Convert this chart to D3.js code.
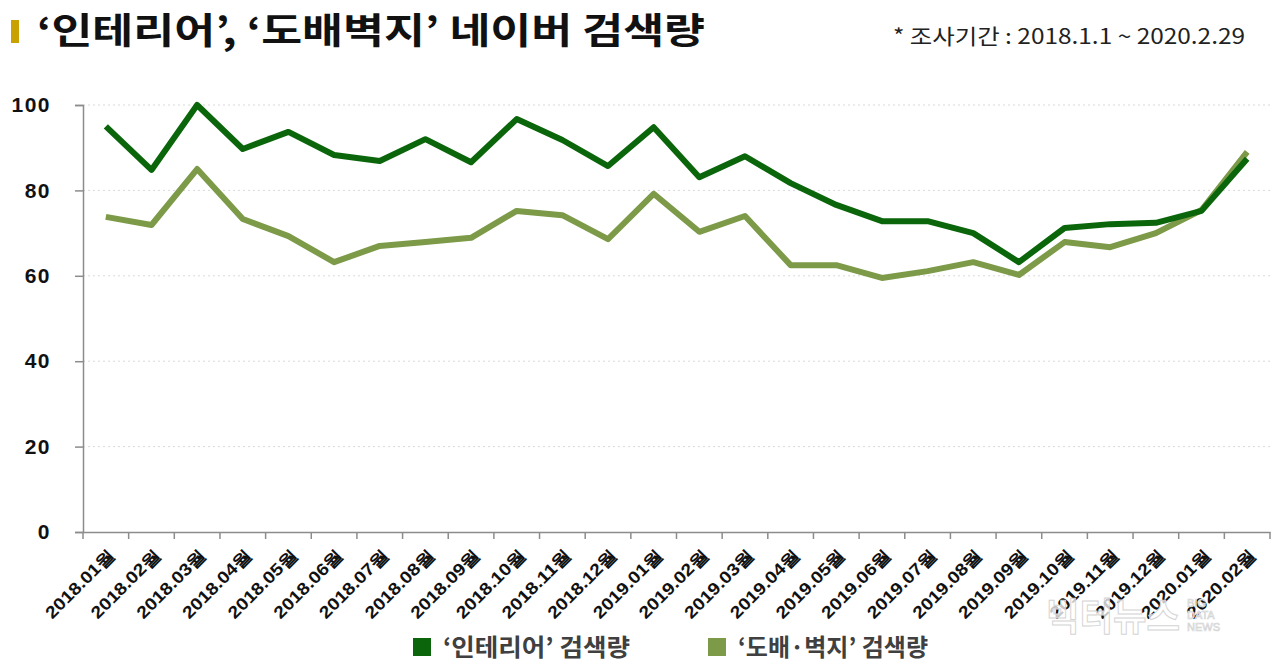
<!DOCTYPE html>
<html>
<head>
<meta charset="utf-8">
<script src="https://cdn.jsdelivr.net/npm/d3@7"></script>
<style>
  body { margin: 0; background: #fff; }
  svg { display: block; font-family: "Noto Sans CJK KR", "Noto Sans", sans-serif; }
</style>
</head>
<body>
<div id="chart"></div>
<script>
var months = ["2018.01월","2018.02월","2018.03월","2018.04월","2018.05월","2018.06월","2018.07월","2018.08월","2018.09월","2018.10월","2018.11월","2018.12월",
              "2019.01월","2019.02월","2019.03월","2019.04월","2019.05월","2019.06월","2019.07월","2019.08월","2019.09월","2019.10월","2019.11월","2019.12월",
              "2020.01월","2020.02월"];
var interior = [95, 84.8, 100, 89.7, 93.7, 88.3, 86.9, 92, 86.6, 96.7, 91.8, 85.7,
                94.8, 83.1, 88, 81.7, 76.6, 72.8, 72.8, 70, 63.2, 71.2, 72.1, 72.4,
                75.2, 87.4];
var wallpaper = [73.8, 71.9, 85, 73.3, 69.3, 63.2, 67, 67.9, 68.9, 75.2, 74.2, 68.6,
                 79.2, 70.3, 74, 62.5, 62.5, 59.5, 61.1, 63.2, 60.2, 67.9, 66.7, 70,
                 75.4, 89];
var yTicks = [0, 20, 40, 60, 80, 100];
var seriesNames = ["‘인테리어’ 검색량", "‘도배·벽지’ 검색량"];
var seriesColors = ["#0b660b", "#7c9a48"];

var W = 1280, H = 665;
var margin = {top: 105, left: 83, right: 10, bottom: 133},
    width  = W - margin.left - margin.right,
    height = H - margin.top - margin.bottom;

var svg = d3.select("#chart").append("svg")
    .attr("width", W).attr("height", H);

// title
svg.append("rect").attr("x", 11).attr("y", 20).attr("width", 8).attr("height", 23).attr("fill", "#c9a100");
svg.append("text")
    .attr("x", 37).attr("y", 44)
    .attr("font-size", 36).attr("font-weight", "bold").attr("fill", "#111")
    .attr("textLength", 668).attr("lengthAdjust", "spacingAndGlyphs")
    .text("‘인테리어’, ‘도배벽지’ 네이버 검색량");
svg.append("text")
    .attr("x", 893).attr("y", 44)
    .attr("font-size", 21).attr("fill", "#222")
    .attr("textLength", 352).attr("lengthAdjust", "spacingAndGlyphs")
    .text("* 조사기간 : 2018.1.1 ~ 2020.2.29");

var x = d3.scaleBand().domain(months).range([0, width]),
    y = d3.scaleLinear().domain([0, 100]).range([height, 0]);

var g = svg.append("g").attr("transform", "translate(" + margin.left + "," + margin.top + ")");

// grid
g.append("g").selectAll("line")
  .data(yTicks.filter(function(d) { return d > 0; }))
  .enter().append("line")
    .attr("x1", 0).attr("x2", width)
    .attr("y1", function(d) { return y(d); })
    .attr("y2", function(d) { return y(d); })
    .attr("stroke", "#d9d9d9")
    .attr("stroke-dasharray", "2,3");

// y axis
var yAxis = g.append("g")
  .call(d3.axisLeft(y).tickValues(yTicks).tickSize(8).tickPadding(24));
yAxis.select(".domain").attr("stroke", "#8c8c8c").attr("stroke-width", 1.5);
yAxis.selectAll(".tick line").attr("stroke", "#8c8c8c").attr("stroke-width", 1.5);
yAxis.selectAll("text").attr("font-size", 21).attr("font-weight", "bold").attr("fill", "#111")
  .attr("letter-spacing", 1.5)
  .attr("font-family", "Liberation Sans, Arial, sans-serif");

// x axis
var xAxis = g.append("g")
  .attr("transform", "translate(0," + height + ")")
  .call(d3.axisBottom(x).tickSize(0).tickFormat(""));
xAxis.select(".domain").attr("stroke", "#8c8c8c").attr("stroke-width", 1.5);
xAxis.selectAll(".tick").remove();

// band boundary ticks
xAxis.append("g").selectAll("line")
  .data(months.concat(["end"]))
  .enter().append("line")
    .attr("x1", function(d, i) { return i * x.step(); })
    .attr("x2", function(d, i) { return i * x.step(); })
    .attr("y1", 0).attr("y2", 7)
    .attr("stroke", "#8c8c8c").attr("stroke-width", 1.5);

xAxis.append("g").selectAll("text")
  .data(months)
  .enter().append("text")
    .attr("transform", function(d) {
      return "translate(" + (x(d) + x.bandwidth() / 2 + 10) + ",24) rotate(-45)";
    })
    .attr("text-anchor", "end")
    .attr("font-size", 17).attr("font-weight", "bold").attr("fill", "#111")
    .attr("textLength", 90).attr("lengthAdjust", "spacingAndGlyphs")
    .text(function(d) { return d; });

// lines
var line = d3.line()
    .x(function(d, i) { return x(months[i]) + x.bandwidth() / 2; })
    .y(function(d) { return y(d); });

[wallpaper, interior].forEach(function(s, k) {
  g.append("path")
    .datum(s)
    .attr("fill", "none")
    .attr("stroke", k === 0 ? seriesColors[1] : seriesColors[0])
    .attr("stroke-width", 6)
    .attr("stroke-linejoin", "round")
    .attr("d", line);
});

// watermark
var wm = svg.append("g");
wm.append("text").attr("x", 1046).attr("y", 630)
  .attr("font-size", 38).attr("font-weight", "bold")
  .attr("textLength", 134).attr("lengthAdjust", "spacingAndGlyphs")
  .attr("fill", "#fff").attr("fill-opacity", 0.75)
  .attr("stroke", "#d4d4d4").attr("stroke-width", 1)
  .text("빅터뉴스");
["BIG", "DATA", "NEWS"].forEach(function(t, i) {
  wm.append("text").attr("x", 1187).attr("y", 607 + i * 12)
    .attr("font-size", 11).attr("font-family", "Liberation Sans, sans-serif")
    .attr("fill", "#fff").attr("stroke", "#d4d4d4").attr("stroke-width", 0.7)
    .text(t);
});

// legend
var legend = svg.append("g");
var legX = [413, 708];
var legLen = [187, 190];
seriesNames.forEach(function(n, i) {
  legend.append("rect")
    .attr("x", legX[i]).attr("y", 638).attr("width", 18).attr("height", 18)
    .attr("fill", seriesColors[i]);
  legend.append("text")
    .attr("x", legX[i] + 30).attr("y", 656)
    .attr("font-size", 24).attr("font-weight", "bold").attr("fill", "#404040")
    .attr("textLength", legLen[i]).attr("lengthAdjust", "spacingAndGlyphs")
    .text(n);
});
</script>
</body>
</html>
